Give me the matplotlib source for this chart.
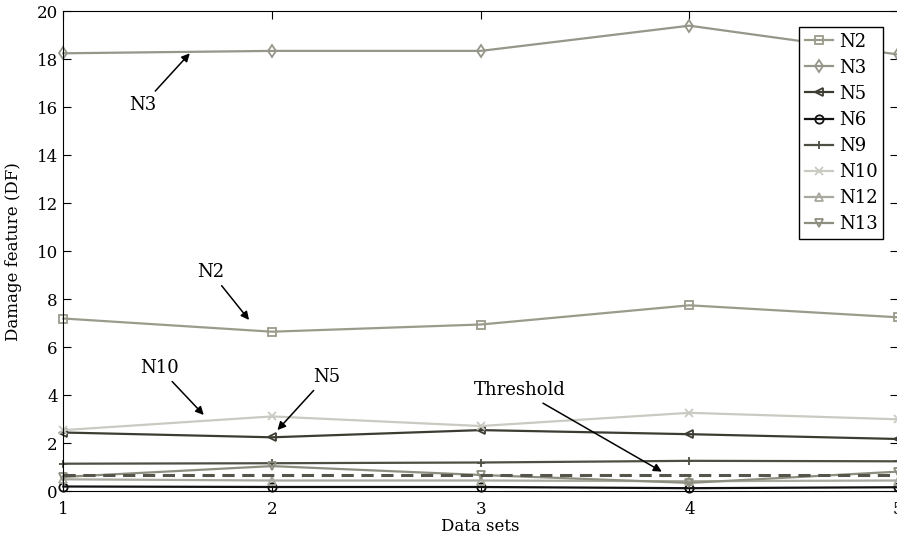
import numpy as np
import matplotlib.pyplot as plt

plt.rcParams['font.family'] = ['DejaVu Serif']

# data
data_sets = [1, 2, 3, 4, 5]
n2 = [7.2, 6.65, 6.95, 7.75, 7.25]
n3 = [18.25, 18.35, 18.35, 19.4, 18.2]
n5 = [2.45, 2.25, 2.55, 2.38, 2.18]
n6 = [0.2, 0.18, 0.18, 0.13, 0.17]
n9 = [1.15, 1.17, 1.2, 1.27, 1.25]
n10 = [2.55, 3.12, 2.72, 3.27, 3.0]
n12 = [0.5, 0.45, 0.45, 0.42, 0.45]
n13 = [0.6, 1.05, 0.68, 0.35, 0.82]
threshold = 0.7

fig = plt.figure(figsize=(8.97, 5.43), dpi=100)
ax = fig.add_axes([0.0706, 0.0952, 0.9306, 0.884])

series = [
    ("N2", n2, "s", "#9b9b8c"),
    ("N3", n3, "d", "#96968a"),
    ("N5", n5, "<", "#3c3c32"),
    ("N6", n6, "o", "#111111"),
    ("N9", n9, "+", "#4e4e44"),
    ("N10", n10, "x", "#cacac2"),
    ("N12", n12, "^", "#a8a89e"),
    ("N13", n13, "v", "#8e8e80"),
]
for name, vals, mk, col in series:
    ax.plot(data_sets, vals, marker=mk, color=col, lw=1.6, ms=6,
            mfc="none", mew=1.3, label=name, clip_on=False)

ax.plot(data_sets, [threshold] * len(data_sets), "--", color="#55554c",
        lw=2.2, dashes=(4, 2.5))

ax.set_xlim(1, 5)
ax.set_ylim(0, 20)
ax.set_xticks(data_sets)
ax.set_yticks(np.arange(0, 21, 2))
ax.tick_params(direction="in", top=True, right=True, labelsize=12, length=6)
ax.tick_params(axis="y", pad=4)
ax.tick_params(axis="x", pad=7)
ax.set_xlabel("Data sets", fontsize=12, labelpad=0)
ax.set_ylabel("Damage feature (DF)", fontsize=12)
ax.yaxis.set_label_coords(-0.05, 0.5)

arr = dict(arrowstyle="-|>", color="black", lw=1.1, mutation_scale=12,
           shrinkA=2, shrinkB=0)
ax.annotate("N3", xy=(1.606, 18.25), xytext=(1.38, 16.1), fontsize=13,
            ha="center", va="center", arrowprops=arr)
ax.annotate("N2", xy=(1.89, 7.14), xytext=(1.705, 9.15), fontsize=13,
            ha="center", va="center", arrowprops=arr)
ax.annotate("N10", xy=(1.673, 3.18), xytext=(1.459, 5.15), fontsize=13,
            ha="center", va="center", arrowprops=arr)
ax.annotate("N5", xy=(2.026, 2.55), xytext=(2.26, 4.78), fontsize=13,
            ha="center", va="center", arrowprops=arr)
ax.annotate("Threshold", xy=(3.868, 0.82), xytext=(3.189, 4.22), fontsize=13,
            ha="center", va="center", arrowprops=arr)

leg = ax.legend(loc="upper right", bbox_to_anchor=(0.982, 0.967), fontsize=13,
                fancybox=False, framealpha=1, edgecolor="black",
                handlelength=1.6, handletextpad=0.3, borderpad=0.3,
                labelspacing=0.45, borderaxespad=0)
leg.get_frame().set_linewidth(1.0)

fig.savefig("out.png", dpi=100)
